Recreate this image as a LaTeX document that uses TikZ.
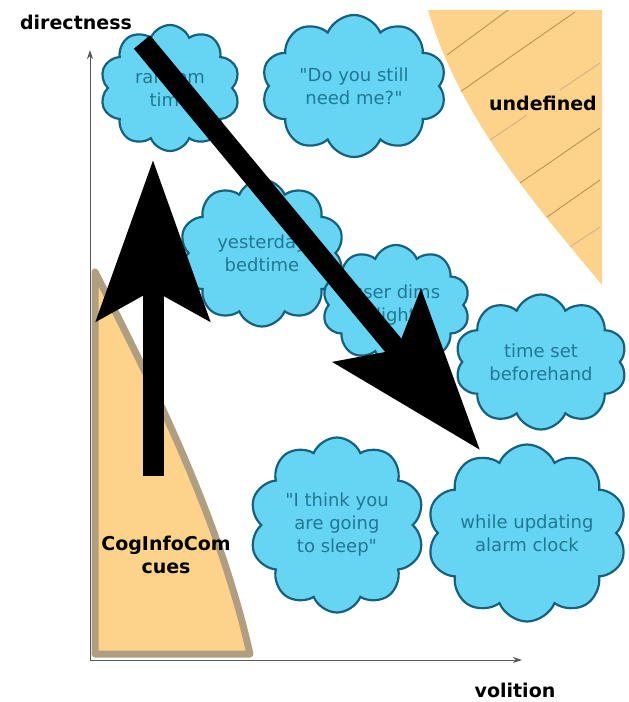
\documentclass[tikz,border=0pt]{standalone}
\usepackage{fontspec}
\setmainfont{DejaVu Sans}
\usetikzlibrary{shapes.symbols,arrows.meta}

\definecolor{bubblefill}{RGB}{102,213,243}
\definecolor{bubbleline}{RGB}{22,98,126}
\definecolor{bubbletext}{RGB}{31,120,150}
\definecolor{cuefill}{RGB}{253,210,138}
\definecolor{cueline}{RGB}{176,158,128}
\definecolor{hatchline}{RGB}{184,140,80}

\begin{document}
\begin{tikzpicture}[
  x=1pt,
  y=-1pt,
  bubble/.style={cloud, cloud puffs=10, cloud puff arc=135, cloud ignores aspect,
    draw=bubbleline, line width=2.2pt, fill=bubblefill, text=bubbletext,
    align=center, inner sep=-6pt, font=\fontsize{18}{23}\selectfont},
  axislabel/.style={font=\bfseries\fontsize{19}{23}\selectfont, align=center, inner sep=1pt},
  axisline/.style={draw=black!65, line width=1pt, -{Stealth[length=9pt,width=6pt]}},
  bigarrow/.style={line width=21pt, -{Stealth[length=160pt,width=112pt,inset=30pt]}}
]
  \useasboundingbox (0,0) rectangle (629,702);

  % Regions.
  \fill[cuefill] (428,10) .. controls (460,120) and (540,210) .. (602,285)
    -- (602,10) -- cycle;
  \begin{scope}
    \clip (428,10) .. controls (460,120) and (540,210) .. (602,285) -- (602,10) -- cycle;
    \draw[hatchline, line width=0.8pt] (447,55) -- (508,10);
    \draw[hatchline, line width=0.8pt] (460,92) -- (575,12);
    \draw[hatchline!70, line width=0.8pt] (560,90) -- (600,63);
    \draw[hatchline!70, line width=0.8pt] (490,140) -- (527,115);
    \draw[hatchline, line width=0.8pt] (520,183) -- (600,128);
    \draw[hatchline, line width=0.8pt] (547,217) -- (600,180);
    \draw[hatchline!70, line width=0.8pt] (570,247) -- (600,227);
  \end{scope}
  \draw[cueline, fill=cuefill, line width=7pt, line join=round]
    (95,272) .. controls (160,398) and (221,525) .. (250,654) -- (95,654) -- cycle;

  % Axes.
  \coordinate (origin) at (90,660);
  \coordinate (ytop) at (90,50);
  \coordinate (xend) at (522,660);
  \draw[axisline] (origin) -- (ytop);
  \draw[axisline] (origin) -- (xend);

  % Clouds.
  \node[bubble, minimum width=140, minimum height=126] (random) at (170,88) {random\\time};
  \node[bubble, minimum width=185, minimum height=142] (still) at (354,86) {\textquotedbl Do you still\\need me?\textquotedbl};
  \node[bubble, minimum width=165, minimum height=147] (yesterday) at (262,253) {yesterday\\bedtime};
  \node[bubble, minimum width=148, minimum height=120] (dims) at (396,305) {user dims\\light};
  \node[bubble, minimum width=172, minimum height=135] (beforehand) at (541,362) {time set\\beforehand};
  \node[bubble, minimum width=175, minimum height=175] (sleep) at (337,525) {\textquotedbl I think you\\are going\\to sleep\textquotedbl};
  \node[bubble, minimum width=200, minimum height=177] (alarm) at (527,533) {while updating\\alarm clock};

  % Arrows.
  \coordinate (upfoot) at (153,476);
  \coordinate (uptip) at (153,160);
  \coordinate (diagfoot) at (142,42);
  \coordinate (diagtip) at (480,450);
  \draw[bigarrow] (upfoot) -- (uptip);
  \draw[bigarrow] (diagfoot) -- (diagtip);

  % Labels.
  \node[axislabel] (directness) at (76,22) {directness};
  \node[axislabel] (volition) at (515,690) {volition};
  \node[axislabel] (undefined) at (543,103) {undefined};
  \node[axislabel] (cues) at (166,555) {CogInfoCom\\cues};
\end{tikzpicture}
\end{document}
